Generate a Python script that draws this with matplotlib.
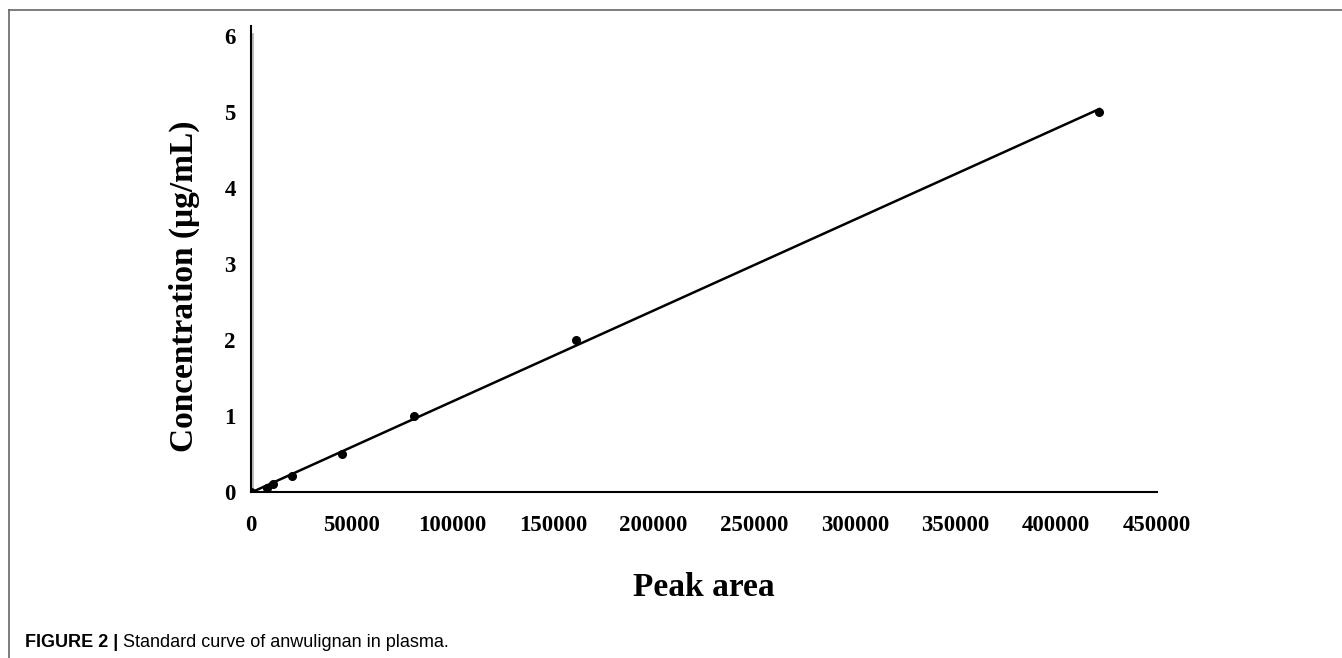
import numpy as np
import matplotlib.pyplot as plt
import matplotlib.transforms as mtransforms
from matplotlib.lines import Line2D

# standard curve data (peak area vs concentration)
peak_area = np.array([0, 7800, 11000, 20500, 45000, 81000, 161500, 421500])
conc = np.array([0, 0.05, 0.1, 0.2, 0.5, 1.0, 2.0, 5.0])

x_ticks = [0, 50000, 100000, 150000, 200000, 250000, 300000, 350000, 400000, 450000]
y_ticks = [0, 1, 2, 3, 4, 5, 6]

serif = ['Liberation Serif', 'DejaVu Serif']

fig = plt.figure(figsize=(13.42, 6.58), dpi=100)
ax = fig.add_axes([0.187, 0.2530, 0.675, 0.708])

# linear trendline
slope, intercept = np.polyfit(peak_area, conc, 1)
xl = np.array([0, peak_area.max()])
ax.plot(xl, slope * xl + intercept, color='black', lw=1.8, zorder=2)
ax.plot(peak_area, conc, 'o', color='black', ms=5.5, zorder=3)

ax.set_xlim(0, 450000)
ax.set_ylim(0, 6.13)
ax.set_xticks(x_ticks)
ax.set_yticks(y_ticks)
ax.set_xticklabels([str(v) for v in x_ticks], fontfamily=serif, fontweight='bold', fontsize=16.5)
ax.set_yticklabels([str(v) for v in y_ticks], fontfamily=serif, fontweight='bold', fontsize=16.5)
ax.tick_params(length=0)
ax.tick_params(axis='x', pad=17)
ax.tick_params(axis='y', pad=11)

for s in ['top', 'right']:
    ax.spines[s].set_visible(False)
for s in ['left', 'bottom']:
    ax.spines[s].set_linewidth(1.5)
    ax.spines[s].set_color('black')

# faint second line beside the y axis
tr = mtransforms.offset_copy(ax.transAxes, fig=fig, x=2.5, y=0, units='dots')
ax.add_line(Line2D([0, 0], [0, 0.983], transform=tr, color='#b5b5b5', lw=1.3, clip_on=False))

ax.set_xlabel('Peak area', fontfamily=serif, fontweight='bold', fontsize=24, labelpad=26)
ax.set_ylabel('Concentration (μg/mL)', fontfamily=serif, fontweight='bold', fontsize=24)
ax.yaxis.set_label_coords(-0.056, 0.44)

# panel frame
fig.add_artist(Line2D([0.0067, 1.0], [0.985, 0.985], transform=fig.transFigure, color='#666666', lw=1.2))
fig.add_artist(Line2D([0.0067, 0.0067], [0.0, 0.985], transform=fig.transFigure, color='#666666', lw=1.2))

cap = fig.text(0.0186, 0.017, 'FIGURE 2 |', fontfamily='Liberation Sans', fontweight='bold',
               fontsize=13, va='baseline')
fig.canvas.draw()
bb = cap.get_window_extent()
fig.text(bb.x1 / fig.bbox.width, 0.017, ' Standard curve of anwulignan in plasma.',
         fontfamily='Liberation Sans', fontsize=13, va='baseline')

fig.savefig('out.png', dpi=100)
